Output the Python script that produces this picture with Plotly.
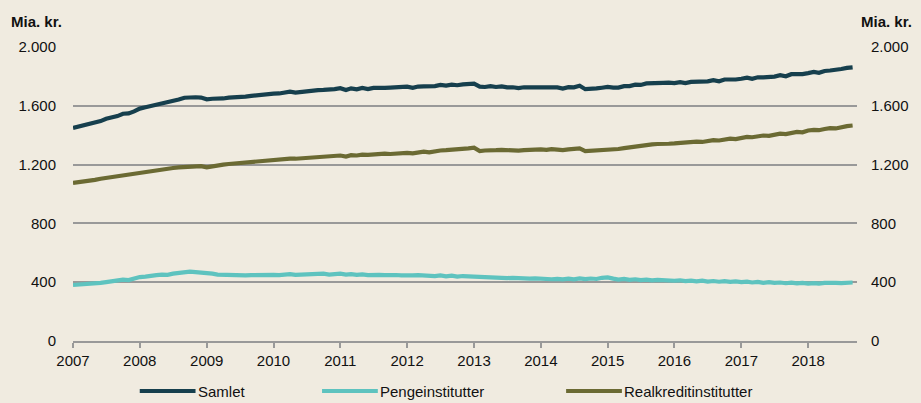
import plotly.graph_objects as go
import pandas as pd

dates = pd.date_range("2007-01-01", "2018-09-01", freq="MS")

penge = [
    381, 383, 386, 389, 392, 396, 401, 405, 410, 418, 414, 425,
    435, 438, 440, 448, 452, 450, 458, 462, 470, 472, 468, 466,
    462, 458, 452, 450, 452, 448, 450, 446, 448, 450, 447, 452,
    450, 448, 452, 455, 450, 452, 456, 452, 455, 458, 452, 455,
    458, 452, 455, 450, 453, 448, 452, 450, 448, 452, 449, 447,
    450, 446, 448, 444, 447, 442, 446, 440, 444, 438, 442, 440,
    436, 438, 432, 434, 430, 432, 428, 430, 426, 428, 424, 426,
    422, 425, 420, 423, 419, 424, 420, 426, 421, 425, 422, 430,
    433, 424, 418, 422, 416, 420, 414, 418, 413, 416, 412, 415,
    410, 413, 408, 411, 406, 410, 404, 408, 403, 407, 402, 405,
    400, 404, 398, 402, 396, 400, 395, 398, 393, 397, 392, 395,
    390, 394, 391, 395, 392, 396, 394, 396, 398,
]

realkredit = [
    1075, 1079, 1085, 1092, 1096, 1104, 1110, 1114, 1121, 1128, 1131, 1140,
    1146, 1152, 1158, 1163, 1168, 1172, 1177, 1181, 1185, 1188, 1190, 1190,
    1182, 1190, 1196, 1200, 1204, 1208, 1212, 1216, 1219, 1222, 1226, 1230,
    1233, 1236, 1238, 1241, 1240, 1243, 1246, 1248, 1252, 1250, 1256, 1258,
    1262, 1255, 1264, 1262, 1268, 1266, 1270, 1269, 1274, 1272, 1276, 1278,
    1280, 1276, 1283, 1288, 1283, 1292, 1296, 1298, 1300, 1302, 1304, 1310,
    1315, 1292, 1296, 1300, 1298, 1300, 1297, 1296, 1295, 1298, 1302, 1305,
    1303, 1300, 1305, 1302, 1298, 1303, 1306, 1310, 1292, 1294, 1296, 1293,
    1296, 1300, 1306, 1312, 1318, 1324, 1328, 1334, 1338, 1340, 1344, 1342,
    1344, 1348, 1346, 1352, 1356, 1354, 1362, 1366, 1364, 1372, 1376, 1374,
    1384, 1388, 1386, 1392, 1398, 1396, 1404, 1410, 1408, 1418, 1422, 1420,
    1432, 1436, 1434, 1442, 1448, 1446, 1456, 1462, 1466,
]

samlet = [
    1450, 1458, 1466, 1478, 1486, 1496, 1512, 1518, 1530, 1546, 1548, 1562,
    1581, 1590, 1598, 1611, 1620, 1622, 1635, 1643, 1655, 1660, 1658, 1656,
    1644, 1648, 1648, 1650, 1656, 1656, 1662, 1662, 1667, 1672, 1673, 1682,
    1683, 1684, 1690, 1696, 1690, 1695, 1702, 1700, 1707, 1708, 1708, 1713,
    1720, 1707, 1719, 1712, 1721, 1714, 1722, 1719, 1722, 1724, 1725, 1725,
    1730, 1722, 1731, 1732, 1730, 1734, 1742, 1738, 1744, 1740, 1746, 1750,
    1751, 1730, 1728, 1734, 1728, 1732, 1725, 1726, 1721, 1726, 1726, 1731,
    1725, 1725, 1725, 1725, 1717, 1727, 1726, 1736, 1713, 1719, 1718, 1723,
    1729, 1724, 1724, 1734, 1734, 1744, 1742, 1752, 1751, 1756, 1756, 1757,
    1754, 1761, 1754, 1763, 1762, 1764, 1766, 1774, 1767, 1779, 1778, 1779,
    1784, 1792, 1784, 1794, 1794, 1796, 1799, 1808, 1801, 1815, 1814, 1815,
    1822, 1830, 1825, 1837, 1840, 1842, 1850, 1858, 1862,
]

series_names = ["Samlet", "Pengeinstitutter", "Realkreditinstitutter"]
series_colors = ["#163F4D", "#5EC3BF", "#6B6A33"]
y_tickvals = [0, 400, 800, 1200, 1600, 2000]
y_ticktext = ["0", "400", "800", "1.200", "1.600", "2.000"]
x_tickvals = [f"{y}-01-01" for y in range(2007, 2019)]
x_ticktext = [str(y) for y in range(2007, 2019)]

BG = "#F0EBE0"
FONT = "Liberation Sans, Arial, sans-serif"
FS = 15

fig = go.Figure()
for name, vals, col in zip(series_names, [samlet, penge, realkredit], series_colors):
    fig.add_trace(go.Scatter(x=dates, y=vals, mode="lines", name=name,
                             line=dict(color=col, width=4.2), showlegend=False))
# invisible trace for right axis
fig.add_trace(go.Scatter(x=[dates[0]], y=[0], yaxis="y2", mode="markers",
                         marker=dict(opacity=0), showlegend=False, hoverinfo="skip"))

fig.update_layout(
    width=921, height=403,
    margin=dict(l=73, r=61, t=47, b=62),
    paper_bgcolor=BG, plot_bgcolor=BG,
    font=dict(family=FONT, size=FS, color="#111111"),
    xaxis=dict(
        type="date", range=["2007-01-01", "2018-09-25"],
        tickvals=x_tickvals, ticktext=x_ticktext,
        showgrid=False, zeroline=False,
        showline=True, linecolor="#999999", linewidth=1.5,
        ticks="outside", ticklen=5, tickwidth=1.5, tickcolor="#999999",
        tickfont=dict(size=FS),
    ),
    yaxis=dict(
        range=[0, 2000], tickvals=y_tickvals, ticktext=y_ticktext,
        showgrid=True, gridcolor="#999999", gridwidth=1.5,
        zeroline=False, showline=False, ticks="",
        ticklabelstandoff=16, tickfont=dict(size=FS),
    ),
    yaxis2=dict(
        range=[0, 2000], tickvals=y_tickvals, ticktext=y_ticktext,
        overlaying="y", side="right", showgrid=False, zeroline=False,
        showline=False, ticks="", ticklabelstandoff=13, tickfont=dict(size=FS),
    ),
)

fig.add_annotation(text="<b>Mia. kr.</b>", xref="paper", yref="paper",
                   x=-0.011, y=1.0, xanchor="right", yanchor="bottom", yshift=15,
                   showarrow=False, font=dict(size=FS))
fig.add_annotation(text="<b>Mia. kr.</b>", xref="paper", yref="paper",
                   x=1.0, y=1.0, xanchor="left", yanchor="bottom", yshift=15, xshift=2,
                   showarrow=False, font=dict(size=FS))

# manual legend
plot_w = 921 - 73 - 61
plot_h = 403 - 47 - 62
leg_y = (341 - 391) / plot_h
leg_items = [(140, 196), (323, 379), (568, 624)]
for (x0, x1), name, col in zip(leg_items, series_names, series_colors):
    fig.add_shape(type="line", xref="paper", yref="paper",
                  x0=(x0 - 73) / plot_w, x1=(x1 - 73) / plot_w, y0=leg_y, y1=leg_y,
                  line=dict(color=col, width=4))
    fig.add_annotation(text=name, xref="paper", yref="paper",
                       x=(x1 - 73) / plot_w, y=leg_y, xanchor="left", yanchor="middle",
                       showarrow=False, font=dict(size=FS))

fig.write_html("out.html", config={"displayModeBar": False},
               post_script="document.body.style.margin='0';document.body.style.background='%s';" % BG)
